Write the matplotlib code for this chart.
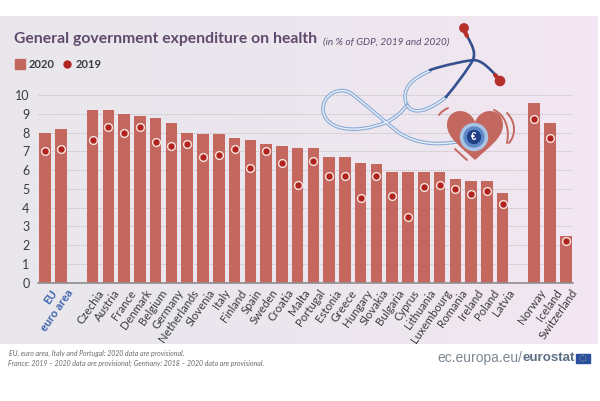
#!/usr/bin/env python3
# -*- coding: utf-8 -*-

import matplotlib
matplotlib.use("Agg")
import matplotlib.pyplot as plt
import numpy as np
from matplotlib.colors import LinearSegmentedColormap
from matplotlib.lines import Line2D
from matplotlib.patches import Circle, PathPatch, Rectangle
from matplotlib.path import Path
from matplotlib.transforms import ScaledTranslation

plt.rcParams["font.family"] = ["Lato", "DejaVu Sans"]

countries = ["EU", "euro area", "Czechia", "Austria", "France", "Denmark", "Belgium", "Germany",
             "Netherlands", "Slovenia", "Italy", "Finland", "Spain", "Sweden", "Croatia", "Malta",
             "Portugal", "Estonia", "Greece", "Hungary", "Slovakia", "Bulgaria", "Cyprus",
             "Lithuania", "Luxembourg", "Romania", "Ireland", "Poland", "Latvia",
             "Norway", "Iceland", "Switzerland"]
slots = [0, 1] + list(range(3, 30)) + [31, 32, 33]
values_2020 = [8.0, 8.2, 9.2, 9.2, 9.0, 8.9, 8.8, 8.5, 8.0, 7.9, 7.9, 7.7, 7.6, 7.4, 7.3, 7.2,
               7.2, 6.7, 6.7, 6.4, 6.3, 5.9, 5.9, 5.9, 5.9, 5.5, 5.4, 5.4, 4.8, 9.6, 8.5, 2.5]
values_2019 = [7.0, 7.1, 7.6, 8.3, 8.0, 8.3, 7.5, 7.3, 7.4, 6.7, 6.8, 7.1, 6.1, 7.0, 6.4, 5.2,
               6.5, 5.7, 5.7, 4.5, 5.7, 4.6, 3.5, 5.1, 5.2, 5.0, 4.7, 4.9, 4.2, 8.7, 7.7, 2.2]
y_ticks = list(range(0, 11))

BAR = "#c4675f"
DOT = "#b0231f"
W, H = 600, 401

fig = plt.figure(figsize=(6, 4.01), dpi=100)

#background panel, slightly greyer on the left
bg = fig.add_axes([0, 0, 1, 1], zorder=0)
bg.axis("off")
cmap = LinearSegmentedColormap.from_list("panel", ["#e9e7ec", "#ece6ee", "#f2e7f2"])
bg.imshow(np.linspace(0, 1, 64).reshape(1, -1), cmap=cmap, extent=[0, 598, 344, 16], aspect="auto")
bg.set_xlim(0, W)
bg.set_ylim(H, 0)

#main chart
ax = fig.add_axes([38 / W, 1 - 282.7 / H, 535 / W, 187.7 / H], zorder=1)
ax.patch.set_visible(False)
ax.set_xlim(-0.46, 33.46)
ax.set_ylim(0, 10)
ax.bar(slots, values_2020, width=0.73, color=BAR, zorder=2)
ax.plot(slots, values_2019, "o", color=DOT, markersize=5.6, markeredgecolor="#f7e6df",
        markeredgewidth=1.0, zorder=3, clip_on=False)
ax.set_yticks(y_ticks)
ax.set_xticks(slots)
ax.set_xticklabels(countries, rotation=55, ha="right", va="top", rotation_mode="anchor",
                   fontsize=8.2, color="#3c3c3c")
ax.tick_params(axis="both", length=0)
ax.tick_params(axis="x", pad=3.5)
ax.tick_params(axis="y", pad=6, labelsize=9, labelcolor="#3c3c3c")
shift = ScaledTranslation(5 / 100, 0, fig.dpi_scale_trans)
for lab in ax.get_xticklabels():
    lab.set_transform(lab.get_transform() + shift)
for lab in ax.get_xticklabels()[:2]:
    lab.set_color("#3a62ad")
    lab.set_fontweight("bold")
ax.yaxis.grid(True, linestyle=(0, (1, 1)), color="#c2bcc2", linewidth=0.7, zorder=1)
ax.xaxis.grid(False)
ax.set_axisbelow(True)
for side in ["top", "right", "left"]:
    ax.spines[side].set_visible(False)
ax.spines["bottom"].set_color("#8e8e8e")
ax.spines["bottom"].set_linewidth(1.2)
ax.spines["bottom"].set_zorder(4)

handles = [Line2D([], [], marker="s", linestyle="none", color=BAR, markersize=6.5),
           Line2D([], [], marker="o", linestyle="none", color=DOT, markersize=5)]
leg = fig.legend(handles, ["2020", "2019"], loc="upper left", bbox_to_anchor=(13 / W, 1 - 59 / H), ncol=2,
                 frameon=False, handletextpad=0.1, columnspacing=0.5, borderpad=0,
                 borderaxespad=0, handlelength=1.3, prop={"weight": "bold", "size": 8})
for txt in leg.get_texts():
    txt.set_color("#3c3c3c")

#illustration and the free texts, in pixel coordinates
top = fig.add_axes([0, 0, 1, 1], zorder=2)
top.set_xlim(0, W)
top.set_ylim(H, 0)
top.axis("off")


def curve(points):
    codes = [Path.MOVETO] + [Path.CURVE4] * (len(points) - 1)
    return Path(points, codes)


def tube(points, color, width, inner=None):
    top.add_patch(PathPatch(curve(points), fill=False, edgecolor=color, linewidth=width, capstyle="round"))
    if inner:
        top.add_patch(PathPatch(curve(points), fill=False, edgecolor=inner, linewidth=width * 0.4))


light = [(468, 139), (445, 146), (418, 146), (398, 132),
         (385, 122), (370, 108), (352, 94),
         (340, 85), (322, 95), (323, 110),
         (325, 130), (355, 135), (387, 122),
         (395, 118), (402, 112), (407, 105)]
loop = [(407, 105), (400, 90), (412, 78), (430, 71)]
lower = [(407, 105), (412, 115), (428, 112), (446, 97)]
tube(light, "#86a9d6", 2.6, "#e8eef8")
tube(loop, "#86a9d6", 2.6, "#e8eef8")
tube(lower, "#86a9d6", 2.6, "#e8eef8")
tube([(430, 70), (445, 65), (460, 62), (473, 60)], "#34508f", 1.9)
tube([(473, 60), (483, 60), (490, 70), (497, 76)], "#34508f", 1.9)
tube([(446, 97), (456, 85), (466, 72), (473, 60)], "#34508f", 1.9)
tube([(473, 60), (476, 52), (472, 45), (467, 36)], "#34508f", 1.9)
top.add_patch(Circle((464, 28), 4.2, color="#b5302b"))
tube([(464, 29), (465, 32), (466, 34), (467, 36)], "#b5302b", 3)
top.add_patch(Circle((500, 81), 4.6, color="#b5302b"))
tube([(500, 81), (498, 79), (497, 77), (495, 75)], "#b5302b", 3)

#heart
heart = [(475, 160), (462, 148), (447, 138), (447, 125),
         (447, 108), (469, 106), (475, 122),
         (481, 106), (503, 108), (503, 125),
         (503, 138), (488, 148), (475, 160)]
top.add_patch(PathPatch(curve(heart), facecolor=BAR, edgecolor="none"))
for pts in ([(448, 108), (444, 110), (441, 112), (439, 115)],
            [(494, 110), (505, 115), (510, 128), (507, 143)],
            [(507, 113), (516, 122), (516, 135), (509, 143)],
            [(455, 149), (460, 154), (464, 157), (467, 160)]):
    tube(pts, BAR, 1.4)
top.add_patch(Circle((474, 137), 13.5, color="#a9c4e4"))
top.add_patch(Circle((474, 137), 10, color="#5f88c6"))
top.add_patch(Circle((474, 137), 6.5, color="#1f3f86"))
top.text(474, 137.3, "€", color="white", fontsize=7, fontweight="bold", ha="center", va="center",
         family=["Liberation Sans"])

top.text(14, 39, "General government expenditure on health", fontsize=11.3, fontweight="bold",
         color="#5f4a6e", va="center", ha="left")
top.text(323, 42, "(in % of GDP, 2019 and 2020)", fontsize=7.2, style="italic", color="#5f4a6e",
         va="center", ha="left")
top.text(9, 353, "EU, euro area, Italy and Portugal: 2020 data are provisional.", fontsize=5,
         style="italic", color="#6a6a6a", va="center")
top.text(8, 363, "France: 2019 – 2020 data are provisional; Germany: 2018 – 2020 data are provisional.",
         fontsize=5, style="italic", color="#6a6a6a", va="center")
top.text(522, 358, "ec.europa.eu/", fontsize=10, color="#7c8894", va="center", ha="right",
         family=["Liberation Sans", "DejaVu Sans"])
top.text(575, 358, "eurostat", fontsize=9.6, color="#5b6f85", va="center", ha="right", fontweight="bold",
         family=["Liberation Sans", "DejaVu Sans"])
top.add_patch(Rectangle((576, 353.5), 14, 9.5, color="#2a4f9e"))
top.add_patch(Circle((583, 358.2), 3, fill=False, edgecolor="#c9c98a", linewidth=0.6, linestyle=":"))

fig.savefig("out.png", dpi=100)
